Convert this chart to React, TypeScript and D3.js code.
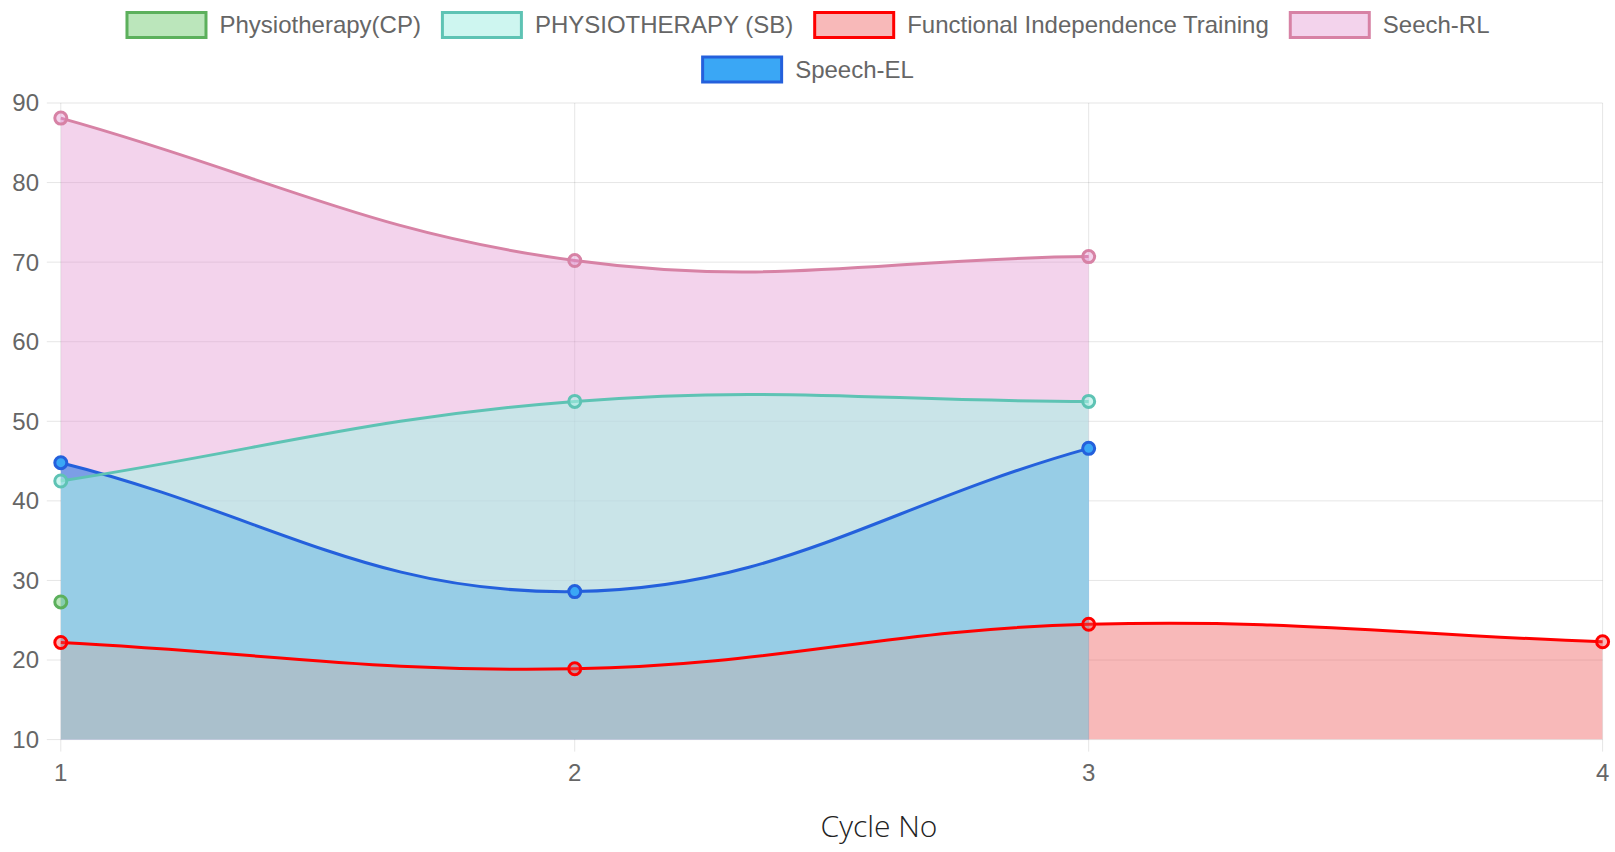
import { useEffect, useRef } from "react"
import * as d3 from "d3"

// data
const cycles = [1, 2, 3, 4]
const seriesNames = [
  "Physiotherapy(CP)",
  "PHYSIOTHERAPY (SB)",
  "Functional Independence Training",
  "Seech-RL",
  "Speech-EL",
]
const physioCP = [27.3]
const physioSB = [42.5, 52.5, 52.5]
const fitValues = [22.2, 18.9, 24.5, 22.3]
const speechRL = [88.1, 70.2, 70.7]
const speechEL = [44.8, 28.6, 46.6]
const yTicks = [10, 20, 30, 40, 50, 60, 70, 80, 90]
const xTitle = "Cycle No"

const seriesValues = [physioCP, physioSB, fitValues, speechRL, speechEL]

const borderColors = ["#5cb05c", "#5ec3b4", "#ff0000", "#d782a5", "#2460dc"]
const fillColors = [
  "rgba(120,205,120,0.5)",
  "rgba(170,239,229,0.58)",
  "rgba(238,80,80,0.4)",
  "rgba(225,145,207,0.4)",
  "rgb(58,167,245)",
]

const W = 1615
const H = 852
const FONT = "'Liberation Sans', Arial, sans-serif"

// Chart.js style bezier (tension 0.4) as a d3 curve
function chartSpline(top: number, bottom: number) {
  return (context: any) => {
    let pts: [number, number][] = []
    let line = NaN
    const t = 0.4
    return {
      areaStart() { line = 0 },
      areaEnd() { line = NaN },
      lineStart() { pts = [] },
      point(x: number, y: number) { pts.push([+x, +y]) },
      lineEnd() {
        const n = pts.length
        if (n) {
          if (line) context.lineTo(pts[0][0], pts[0][1])
          else context.moveTo(pts[0][0], pts[0][1])
          const cps = pts.map((p, i) => {
            const prev = pts[i - 1] || p
            const next = pts[i + 1] || p
            const d01 = Math.hypot(p[0] - prev[0], p[1] - prev[1])
            const d12 = Math.hypot(next[0] - p[0], next[1] - p[1])
            let s01 = d01 / (d01 + d12)
            let s12 = d12 / (d01 + d12)
            if (isNaN(s01)) s01 = 0
            if (isNaN(s12)) s12 = 0
            const fa = t * s01
            const fb = t * s12
            const clampY = (v: number) => Math.max(top, Math.min(bottom, v))
            return {
              px: p[0] - fa * (next[0] - prev[0]),
              py: clampY(p[1] - fa * (next[1] - prev[1])),
              nx: p[0] + fb * (next[0] - prev[0]),
              ny: clampY(p[1] + fb * (next[1] - prev[1])),
            }
          })
          for (let i = 1; i < n; i++) {
            context.bezierCurveTo(cps[i - 1].nx, cps[i - 1].ny, cps[i].px, cps[i].py, pts[i][0], pts[i][1])
          }
        }
        if (line || (line !== 0 && n === 1)) context.closePath()
        line = 1 - line
      },
    }
  }
}

export default function App() {
  const svgRef = useRef<SVGSVGElement>(null)

  useEffect(() => {
    if (!svgRef.current) return
    const svg = d3.select(svgRef.current)
    svg.selectAll("*").remove()

    const left = 60.8, right = 1602.6, top = 103, bottom = 739.6

    const x = d3.scaleLinear().domain([1, 4]).range([left, right])
    const y = d3.scaleLinear().domain([10, 90]).range([bottom, top])

    // grid
    const grid = svg.append("g").attr("stroke", "rgba(0,0,0,0.1)").attr("stroke-width", 1)
    grid.selectAll("line.h").data(yTicks).enter().append("line")
      .attr("x1", left - 14).attr("x2", right)
      .attr("y1", d => y(d)).attr("y2", d => y(d))
    grid.selectAll("line.v").data(cycles).enter().append("line")
      .attr("x1", d => x(d)).attr("x2", d => x(d))
      .attr("y1", top).attr("y2", bottom + 12)

    // tick labels
    svg.append("g").selectAll("text").data(yTicks).enter().append("text")
      .attr("x", 39).attr("y", d => y(d)).attr("dy", "0.35em")
      .attr("text-anchor", "end").attr("font-family", FONT).attr("font-size", 24)
      .attr("fill", "#666").text(d => d)
    svg.append("g").selectAll("text").data(cycles).enter().append("text")
      .attr("x", d => x(d)).attr("y", 781)
      .attr("text-anchor", "middle").attr("font-family", FONT).attr("font-size", 24)
      .attr("fill", "#666").text(d => d)

    svg.append("text").attr("x", 879).attr("y", 837).attr("text-anchor", "middle")
      .attr("font-family", "'Open Sans', sans-serif").attr("font-weight", 300)
      .attr("font-size", 30).attr("fill", "#222").text(xTitle)

    svg.append("defs").append("clipPath").attr("id", "area-clip")
      .append("rect").attr("x", left).attr("y", top).attr("width", right - left).attr("height", bottom - top)

    const curve = chartSpline(top, bottom)
    const area = d3.area<number>()
      .x((_, i) => x(cycles[i]))
      .y0(bottom)
      .y1(d => y(d))
      .curve(curve as any)
    const line = d3.line<number>()
      .x((_, i) => x(cycles[i]))
      .y(d => y(d))
      .curve(curve as any)

    const order = seriesValues.map((_, i) => i).reverse()

    const fills = svg.append("g").attr("clip-path", "url(#area-clip)")
    order.forEach(i => {
      if (seriesValues[i].length < 2) return
      fills.append("path").attr("d", area(seriesValues[i]) as string).attr("fill", fillColors[i])
    })

    order.forEach(i => {
      const g = svg.append("g")
      if (seriesValues[i].length > 1) {
        g.append("path").attr("d", line(seriesValues[i]) as string)
          .attr("fill", "none").attr("stroke", borderColors[i]).attr("stroke-width", 3)
      }
      g.selectAll("circle").data(seriesValues[i]).enter().append("circle")
        .attr("cx", (_, j) => x(cycles[j])).attr("cy", d => y(d)).attr("r", 6)
        .attr("fill", fillColors[i]).attr("stroke", borderColors[i]).attr("stroke-width", 3)
    })

    // legend, laid out like Chart.js (centered rows, wrap on width)
    const boxW = 82, boxH = 25, fontSize = 24, pad = 20
    const legend = svg.append("g")
    const measure = legend.append("text").attr("font-family", FONT).attr("font-size", fontSize)
    const widths = seriesNames.map(n => {
      measure.text(n)
      return boxW + fontSize / 2 + (measure.node() as SVGTextElement).getComputedTextLength()
    })
    measure.remove()
    const rows: number[][] = [[]]
    let lw = pad
    widths.forEach((w, i) => {
      if (rows[rows.length - 1].length && lw + w + pad > W) {
        rows.push([])
        lw = pad
      }
      rows[rows.length - 1].push(i)
      lw += w + pad
    })
    rows.forEach((row, r) => {
      const total = row.reduce((s, i) => s + widths[i], 0) + pad * (row.length - 1)
      let cx = (W - total) / 2
      const cy = 25 + r * 44.5
      row.forEach(i => {
        legend.append("rect").attr("x", cx + 1.5).attr("y", cy - boxH / 2)
          .attr("width", boxW - 3).attr("height", boxH)
          .attr("fill", fillColors[i]).attr("stroke", borderColors[i]).attr("stroke-width", 3)
        legend.append("text").attr("x", cx + boxW + fontSize / 2).attr("y", cy).attr("dy", "0.35em")
          .attr("font-family", FONT).attr("font-size", fontSize).attr("fill", "#666")
          .text(seriesNames[i])
        cx += widths[i] + pad
      })
    })
  }, [])

  return (
    <svg
      ref={svgRef}
      width={W}
      height={H}
      viewBox={`0 0 ${W} ${H}`}
      style={{ position: "absolute", left: 0, top: 0, background: "#fff" }}
      xmlns="http://www.w3.org/2000/svg"
    ></svg>
  )
}
